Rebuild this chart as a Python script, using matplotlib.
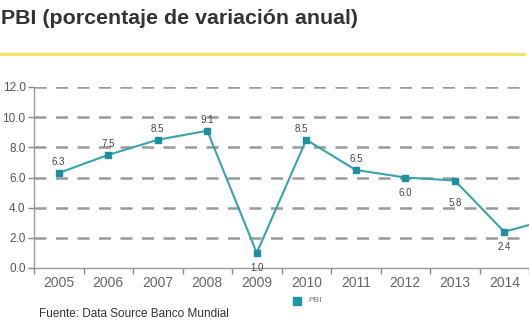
import numpy as np
import matplotlib
matplotlib.use('Agg')
import matplotlib.pyplot as plt
from matplotlib.lines import Line2D

plt.rcParams['font.family'] = ['Liberation Sans', 'DejaVu Sans']

# Datos
anios = ['2005', '2006', '2007', '2008', '2009', '2010', '2011', '2012', '2013', '2014', '2015']
pbi = [6.3, 7.5, 8.5, 9.1, 1.0, 8.5, 6.5, 6.0, 5.8, 2.4, 3.3]
etiquetas = ['6.3', '7.5', '8.5', '9.1', '1.0', '8.5', '6.5', '6.0', '5.8', '2.4']
yticks = [0, 2, 4, 6, 8, 10, 12]

W, H = 529, 321
fig = plt.figure(figsize=(W / 100, H / 100), dpi=100)
fig.patch.set_facecolor('white')

# titulo + linea amarilla
fig.text(1 / W, 1 - 24 / H, 'PBI (porcentaje de variación anual)', fontsize=15.4,
         fontweight='bold', color='#333333', va='baseline', ha='left')
fig.add_artist(Line2D([0, 524 / W], [1 - 54 / H, 1 - 54 / H], color='#f3df5c', lw=2))

# ejes
x0, x1 = 34 / W, 1.0
y0, y1 = 1 - 268 / H, 1 - 87 / H
ax = fig.add_axes([x0, y0, x1 - x0, y1 - y0])
ax.set_facecolor('white')

x = np.arange(len(anios))
ax.set_xlim(-0.5, 9.38)
ax.set_ylim(0, 12)

for v in yticks[1:]:
    ax.axhline(v, color='#9a9a9a', lw=1.8, dashes=(4.8, 3.8), zorder=1)

ax.plot(x, pbi, color='#3aa3a8', lw=1.5, zorder=3, clip_on=True)
ax.plot(x[:10], pbi[:10], 's', color='#1d8f9e', ms=5, zorder=4)

# etiquetas de puntos
abajo = {4, 7, 8, 9}
for i, t in enumerate(etiquetas):
    dx = 0
    if i == 5:
        dx = -0.1
    if i in abajo:
        off = -11 if i != 8 else -16
        ax.annotate(t, (x[i] + dx, pbi[i]), xytext=(0, off), textcoords='offset points',
                    ha='center', va='center', fontsize=7, color='#444444')
    else:
        ax.annotate(t, (x[i] + dx, pbi[i]), xytext=(0, 8), textcoords='offset points',
                    ha='center', va='center', fontsize=7, color='#444444')

ax.set_yticks(yticks)
ax.set_yticklabels([f'{v:.1f}' for v in yticks], fontsize=8.5, color='#555555')
ax.set_xticks(x[:10])
ax.set_xticklabels(anios[:10], fontsize=10, color='#666666')
ax.set_xticks(np.arange(-0.5, 10, 1), minor=True)
ax.tick_params(axis='x', which='major', length=0, pad=6)
ax.tick_params(axis='x', which='minor', length=4, color='#888888', width=1)
ax.tick_params(axis='y', length=4, color='#888888', width=1, pad=2)

for s in ['top', 'right']:
    ax.spines[s].set_visible(False)
for s in ['left', 'bottom']:
    ax.spines[s].set_color('#999999')
    ax.spines[s].set_linewidth(1)

# leyenda
fig.add_artist(Line2D([297 / W], [1 - 301 / H], marker='s', color='#1d96a8', ms=6, ls='none'))
fig.text(308 / W, 1 - 301 / H, 'PBI', fontsize=6, color='#777777', va='center')

# fuente
fig.text(39 / W, 1 - 320 / H, 'Fuente: Data Source Banco Mundial', fontsize=8.5,
         color='#333333', va='bottom', ha='left')

plt.savefig('out.png', dpi=100)
plt.close()
